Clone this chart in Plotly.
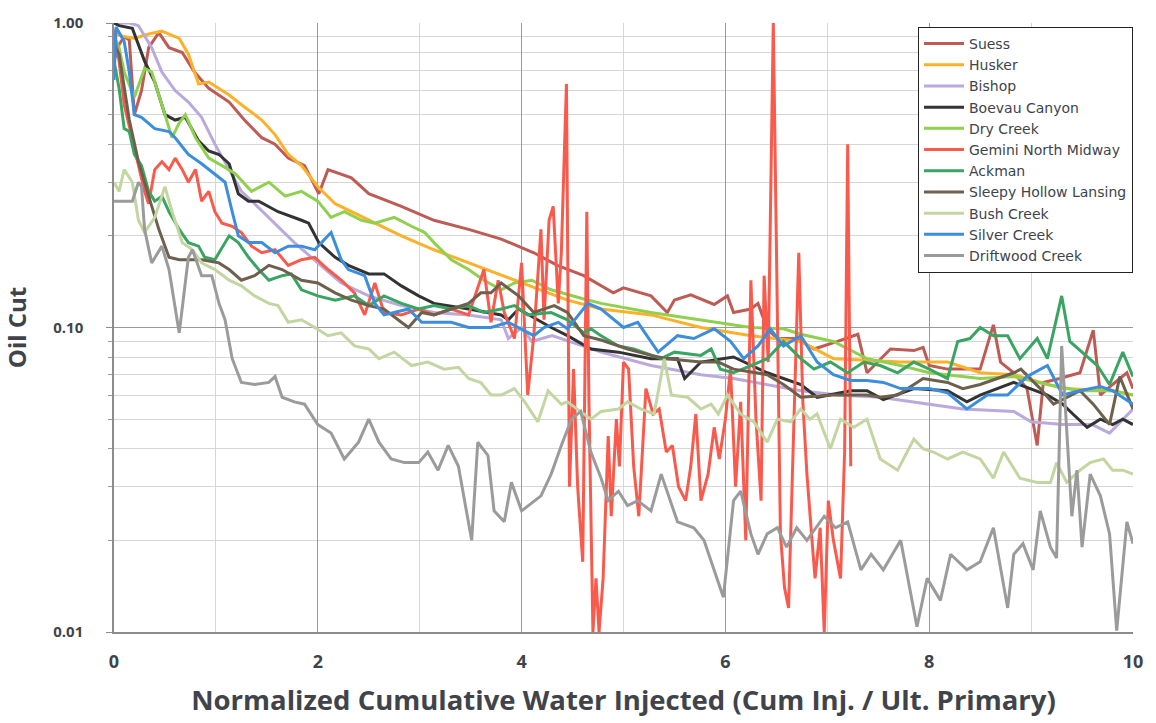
import plotly.graph_objects as go

# ---- data: (normalized cumulative water injected, oil cut) ----
suess = [(0,0.75),(0.05,0.85),(0.1,0.9),(0.15,0.88),(0.2,0.5),(0.27,0.6),(0.34,0.83),(0.44,0.93),(0.54,0.83),(0.67,0.8),
         (0.79,0.69),(0.93,0.61),(1.13,0.55),(1.28,0.48),(1.45,0.42),(1.58,0.4),(1.71,0.36),(1.87,0.34),(2.01,0.275),(2.1,0.33),
         (2.33,0.31),(2.5,0.275),(2.82,0.25),(3.14,0.225),(3.48,0.21),(3.8,0.195),(4.12,0.176),(4.35,0.16),(4.61,0.148),(4.9,0.13),
         (5.0,0.135),(5.27,0.127),(5.43,0.112),(5.5,0.123),(5.66,0.128),(5.89,0.119),(6.02,0.127),(6.08,0.112),(6.25,0.115),(6.32,0.12),
         (6.41,0.099),(6.51,0.092),(6.7,0.092),(6.87,0.085),(7.1,0.09),(7.3,0.095),(7.39,0.071),(7.62,0.085),(7.85,0.084),(7.94,0.086),
         (8.0,0.075),(8.18,0.073),(8.37,0.073),(8.5,0.073),(8.63,0.102),(8.7,0.077),(8.83,0.071),(8.96,0.063),(9.06,0.041),(9.12,0.066),
         (9.28,0.068),(9.48,0.071),(9.61,0.098),(9.68,0.06),(9.8,0.065),(9.94,0.071),(10.0,0.063)]

husker = [(0,0.95),(0.05,0.91),(0.2,0.89),(0.34,0.92),(0.47,0.94),(0.64,0.89),(0.73,0.79),(0.83,0.63),(0.93,0.64),(1.13,0.58),
          (1.28,0.53),(1.45,0.48),(1.58,0.43),(1.71,0.37),(1.84,0.34),(2.0,0.29),(2.17,0.255),(2.5,0.225),(2.82,0.2),(3.14,0.18),
          (3.48,0.163),(3.8,0.148),(4.0,0.14),(4.45,0.123),(4.78,0.115),(5.27,0.11),(5.76,0.1),(6.25,0.094),(6.74,0.09),(7.06,0.079),
          (7.39,0.078),(7.72,0.077),(8.18,0.077),(8.5,0.071),(8.83,0.07),(9.31,0.063),(9.8,0.062),(10.0,0.06)]

bishop = [(0,1.0),(0.15,1.0),(0.24,0.98),(0.37,0.83),(0.47,0.69),(0.6,0.6),(0.73,0.55),(0.86,0.49),(0.99,0.4),(1.13,0.33),
          (1.25,0.28),(1.38,0.255),(1.58,0.22),(1.77,0.19),(2.0,0.163),(2.23,0.14),(2.5,0.127),(2.82,0.118),(3.14,0.112),(3.48,0.11),
          (3.8,0.106),(3.87,0.092),(4.0,0.1),(4.1,0.09),(4.3,0.094),(4.78,0.083),(5.27,0.075),(5.76,0.07),(6.08,0.068),(6.41,0.065),
          (6.74,0.062),(7.1,0.06),(7.52,0.059),(8.0,0.056),(8.33,0.054),(8.83,0.053),(9.0,0.049),(9.31,0.048),(9.6,0.048),(9.77,0.045),
          (10.0,0.054)]

boevau = [(0,1.0),(0.05,0.98),(0.18,0.96),(0.3,0.75),(0.4,0.64),(0.5,0.5),(0.6,0.48),(0.7,0.49),(0.83,0.41),(0.93,0.38),
          (1.03,0.37),(1.13,0.345),(1.22,0.275),(1.32,0.26),(1.42,0.26),(1.61,0.24),(1.84,0.225),(1.91,0.22),(2.01,0.19),(2.17,0.17),
          (2.3,0.16),(2.5,0.15),(2.65,0.15),(2.82,0.137),(2.99,0.127),(3.14,0.12),(3.48,0.115),(3.8,0.11),(3.87,0.106),(3.97,0.115),
          (4.29,0.1),(4.45,0.094),(4.68,0.085),(4.95,0.083),(5.27,0.079),(5.53,0.079),(5.6,0.068),(5.76,0.077),(6.08,0.08),(6.41,0.071),
          (6.74,0.065),(6.9,0.059),(7.23,0.062),(7.39,0.062),(7.55,0.058),(7.85,0.063),(8.18,0.062),(8.37,0.057),(8.5,0.06),(8.83,0.066),
          (9.16,0.06),(9.31,0.056),(9.41,0.052),(9.55,0.047),(9.68,0.05),(9.8,0.048),(9.9,0.05),(10.0,0.048)]

dry_creek = [(0,0.9),(0.05,0.83),(0.1,0.69),(0.2,0.57),(0.3,0.71),(0.37,0.69),(0.5,0.5),(0.57,0.42),(0.64,0.47),(0.7,0.5),
             (0.8,0.42),(0.93,0.36),(1.06,0.34),(1.19,0.32),(1.35,0.28),(1.52,0.3),(1.68,0.27),(1.84,0.28),(2.0,0.26),(2.13,0.23),
             (2.26,0.24),(2.43,0.225),(2.56,0.22),(2.75,0.23),(2.92,0.215),(3.05,0.205),(3.14,0.19),(3.31,0.167),(3.48,0.155),(3.63,0.143),
             (3.8,0.133),(3.93,0.14),(4.1,0.143),(4.29,0.133),(4.61,0.124),(4.78,0.12),(5.27,0.112),(5.76,0.106),(6.25,0.1),(6.57,0.099),
             (6.74,0.095),(7.06,0.09),(7.39,0.079),(7.72,0.075),(8.0,0.071),(8.5,0.068),(8.83,0.069),(9.16,0.065),(9.48,0.062),(9.8,0.062),
             (10.0,0.06)]

gemini = [(0,0.95),(0.05,0.75),(0.1,0.54),(0.2,0.39),(0.3,0.28),(0.34,0.255),(0.4,0.33),(0.47,0.35),(0.54,0.33),(0.6,0.36),
          (0.67,0.33),(0.73,0.3),(0.8,0.33),(0.86,0.26),(0.93,0.28),(0.99,0.24),(1.06,0.22),(1.16,0.215),(1.25,0.205),(1.35,0.185),
          (1.45,0.176),(1.58,0.18),(1.71,0.16),(1.84,0.167),(1.97,0.17),(2.1,0.155),(2.23,0.143),(2.36,0.13),(2.46,0.11),(2.56,0.14),
          (2.65,0.112),(2.82,0.11),(2.99,0.115),(3.14,0.11),(3.31,0.115),(3.48,0.11),(3.63,0.155),(3.7,0.104),(3.77,0.143),(3.83,0.112),
          (3.93,0.092),(4.0,0.163),(4.06,0.06),(4.12,0.094),(4.19,0.21),(4.22,0.106),(4.27,0.225),(4.31,0.25),(4.36,0.12),(4.39,0.176),
          (4.44,0.63),(4.47,0.03),(4.51,0.073),(4.55,0.03),(4.6,0.017),(4.64,0.24),(4.66,0.06),(4.7,0.01),(4.73,0.015),(4.76,0.01),
          (4.8,0.015),(4.85,0.044),(4.88,0.024),(4.93,0.05),(4.96,0.035),(5.0,0.077),(5.05,0.073),(5.1,0.035),(5.15,0.024),(5.22,0.063),
          (5.29,0.052),(5.35,0.054),(5.42,0.039),(5.48,0.041),(5.54,0.03),(5.61,0.027),(5.66,0.035),(5.71,0.052),(5.76,0.027),(5.83,0.033),
          (5.89,0.047),(5.94,0.037),(6.0,0.05),(6.05,0.073),(6.1,0.03),(6.15,0.057),(6.2,0.02),(6.25,0.143),(6.3,0.05),(6.35,0.027),
          (6.38,0.148),(6.42,0.077),(6.47,1.0),(6.54,0.021),(6.58,0.014),(6.62,0.012),(6.67,0.044),(6.72,0.176),(6.76,0.057),(6.8,0.033),
          (6.85,0.02),(6.88,0.015),(6.93,0.022),(6.97,0.01),(7.01,0.027),(7.06,0.02),(7.13,0.015),(7.17,0.039),(7.2,0.4),(7.23,0.035)]

ackman = [(0,0.75),(0.05,0.61),(0.1,0.45),(0.15,0.44),(0.2,0.37),(0.27,0.34),(0.34,0.28),(0.4,0.26),(0.47,0.27),(0.54,0.24),
          (0.64,0.21),(0.73,0.19),(0.83,0.185),(0.89,0.17),(0.99,0.167),(1.13,0.2),(1.22,0.19),(1.32,0.17),(1.42,0.155),(1.52,0.143),
          (1.65,0.148),(1.74,0.15),(1.84,0.133),(2.0,0.127),(2.17,0.123),(2.36,0.127),(2.5,0.118),(2.65,0.127),(2.82,0.12),(2.99,0.115),
          (3.14,0.118),(3.31,0.115),(3.48,0.118),(3.63,0.112),(3.8,0.115),(3.93,0.118),(4.06,0.11),(4.29,0.112),(4.45,0.106),(4.61,0.096),
          (4.68,0.099),(4.78,0.094),(4.95,0.087),(5.1,0.085),(5.37,0.079),(5.5,0.083),(5.76,0.081),(5.86,0.085),(5.95,0.073),(6.08,0.071),
          (6.25,0.075),(6.41,0.079),(6.57,0.09),(6.74,0.079),(6.87,0.073),(7.03,0.077),(7.2,0.071),(7.36,0.077),(7.52,0.075),(7.69,0.071),
          (7.85,0.077),(8.0,0.073),(8.18,0.068),(8.28,0.09),(8.4,0.092),(8.5,0.1),(8.63,0.094),(8.77,0.094),(8.89,0.079),(9.06,0.092),
          (9.16,0.079),(9.3,0.127),(9.38,0.09),(9.48,0.084),(9.65,0.075),(9.77,0.065),(9.9,0.083),(10.0,0.069)]

sleepy_hollow = [(0,0.85),(0.05,0.79),(0.15,0.48),(0.24,0.35),(0.34,0.27),(0.44,0.21),(0.54,0.17),(0.64,0.167),(0.73,0.167),(0.86,0.167),
                 (1.03,0.163),(1.13,0.155),(1.25,0.143),(1.38,0.148),(1.52,0.16),(1.65,0.155),(1.84,0.143),(2.0,0.14),(2.17,0.13),(2.33,0.123),
                 (2.5,0.118),(2.65,0.115),(2.82,0.104),(2.89,0.1),(3.02,0.112),(3.14,0.11),(3.31,0.115),(3.48,0.12),(3.6,0.13),(3.7,0.13),
                 (3.8,0.14),(3.97,0.127),(4.12,0.112),(4.32,0.118),(4.45,0.112),(4.61,0.094),(4.78,0.091),(5.04,0.085),(5.27,0.081),(5.43,0.079),
                 (5.76,0.077),(5.93,0.077),(6.08,0.073),(6.41,0.07),(6.57,0.065),(6.74,0.059),(7.06,0.06),(7.39,0.06),(7.52,0.059),(7.69,0.06),
                 (7.85,0.065),(7.94,0.068),(8.18,0.066),(8.33,0.063),(8.5,0.065),(8.83,0.071),(8.9,0.073),(9.09,0.063),(9.22,0.056),(9.48,0.062),
                 (9.61,0.056),(9.77,0.048),(9.87,0.069),(10.0,0.054)]

bush_creek = [(0,0.3),(0.05,0.28),(0.1,0.33),(0.18,0.3),(0.24,0.225),(0.3,0.205),(0.4,0.23),(0.5,0.29),(0.57,0.24),(0.67,0.19),
              (0.77,0.18),(0.86,0.163),(0.99,0.155),(1.13,0.143),(1.25,0.137),(1.38,0.127),(1.52,0.12),(1.61,0.118),(1.71,0.104),(1.84,0.106),
              (1.97,0.1),(2.1,0.094),(2.23,0.096),(2.36,0.087),(2.5,0.085),(2.6,0.079),(2.75,0.083),(2.92,0.075),(3.08,0.077),(3.24,0.073),
              (3.38,0.074),(3.48,0.068),(3.6,0.066),(3.7,0.06),(3.8,0.06),(3.93,0.063),(4.03,0.057),(4.16,0.049),(4.26,0.062),(4.39,0.056),
              (4.45,0.057),(4.55,0.054),(4.68,0.05),(4.78,0.053),(4.95,0.054),(5.04,0.057),(5.17,0.054),(5.3,0.052),(5.4,0.079),(5.47,0.06),
              (5.63,0.059),(5.76,0.054),(5.86,0.056),(5.93,0.052),(6.02,0.06),(6.15,0.052),(6.28,0.049),(6.41,0.042),(6.51,0.05),(6.64,0.049),
              (6.74,0.054),(6.83,0.05),(6.9,0.052),(7.03,0.04),(7.13,0.05),(7.26,0.047),(7.39,0.05),(7.52,0.037),(7.69,0.034),(7.85,0.043),
              (7.94,0.04),(8.04,0.039),(8.18,0.037),(8.33,0.039),(8.5,0.037),(8.63,0.032),(8.73,0.039),(8.89,0.032),(9.06,0.031),(9.19,0.031),
              (9.25,0.036),(9.35,0.031),(9.48,0.034),(9.58,0.036),(9.71,0.037),(9.8,0.034),(9.9,0.034),(10.0,0.033)]

silver_creek = [(0,0.65),(0.02,0.97),(0.1,0.87),(0.15,0.69),(0.2,0.5),(0.27,0.49),(0.4,0.45),(0.54,0.44),(0.6,0.42),(0.73,0.37),
                (0.86,0.345),(0.99,0.32),(1.09,0.3),(1.16,0.24),(1.22,0.2),(1.32,0.19),(1.45,0.19),(1.58,0.176),(1.71,0.185),(1.84,0.185),
                (1.97,0.18),(2.13,0.205),(2.23,0.167),(2.3,0.155),(2.46,0.148),(2.56,0.12),(2.65,0.11),(2.75,0.112),(2.89,0.115),(3.02,0.104),
                (3.14,0.104),(3.31,0.104),(3.48,0.1),(3.7,0.1),(3.87,0.104),(4.0,0.099),(4.12,0.094),(4.22,0.1),(4.36,0.104),(4.45,0.099),
                (4.65,0.12),(4.78,0.115),(5.0,0.1),(5.14,0.104),(5.34,0.083),(5.53,0.094),(5.69,0.092),(5.89,0.099),(6.05,0.09),(6.18,0.079),
                (6.32,0.087),(6.44,0.099),(6.57,0.087),(6.74,0.094),(6.9,0.077),(7.06,0.07),(7.23,0.067),(7.39,0.067),(7.55,0.066),(7.72,0.063),
                (8.0,0.063),(8.18,0.061),(8.37,0.054),(8.57,0.06),(8.77,0.06),(8.96,0.069),(9.16,0.075),(9.31,0.06),(9.48,0.062),(9.68,0.064),
                (9.8,0.062),(10.0,0.056)]

driftwood = [(0,0.26),(0.05,0.26),(0.18,0.26),(0.24,0.3),(0.27,0.29),(0.3,0.21),(0.37,0.163),(0.47,0.185),(0.54,0.155),(0.64,0.096),
             (0.73,0.17),(0.77,0.18),(0.86,0.148),(0.96,0.148),(1.03,0.12),(1.09,0.106),(1.16,0.079),(1.25,0.066),(1.38,0.065),(1.52,0.066),
             (1.58,0.069),(1.65,0.059),(1.77,0.057),(1.87,0.056),(2.0,0.048),(2.13,0.045),(2.26,0.037),(2.4,0.042),(2.5,0.05),(2.6,0.042),
             (2.72,0.037),(2.85,0.036),(2.99,0.036),(3.08,0.039),(3.18,0.034),(3.28,0.041),(3.38,0.035),(3.51,0.02),(3.57,0.042),(3.67,0.038),
             (3.73,0.025),(3.83,0.023),(3.9,0.031),(4.0,0.025),(4.19,0.028),(4.29,0.033),(4.39,0.041),(4.49,0.05),(4.58,0.053),(4.68,0.039),
             (4.78,0.032),(4.85,0.027),(4.95,0.029),(5.04,0.026),(5.14,0.027),(5.27,0.025),(5.37,0.033),(5.53,0.023),(5.69,0.022),(5.79,0.02),
             (5.89,0.016),(5.98,0.013),(6.08,0.027),(6.15,0.029),(6.25,0.021),(6.32,0.018),(6.41,0.021),(6.51,0.022),(6.6,0.019),(6.7,0.022),
             (6.8,0.02),(6.97,0.024),(7.08,0.022),(7.2,0.023),(7.33,0.016),(7.43,0.018),(7.55,0.016),(7.72,0.02),(7.88,0.0104),(7.98,0.015),
             (8.11,0.0127),(8.21,0.018),(8.37,0.016),(8.5,0.017),(8.63,0.022),(8.77,0.012),(8.83,0.018),(8.92,0.0195),(9.02,0.016),(9.09,0.025),
             (9.19,0.019),(9.25,0.0175),(9.3,0.087),(9.35,0.044),(9.4,0.024),(9.45,0.034),(9.5,0.019),(9.58,0.033),(9.68,0.028),(9.77,0.021),
             (9.84,0.0101),(9.94,0.023),(10.0,0.0195)]

series_names = ["Suess", "Husker", "Bishop", "Boevau Canyon", "Dry Creek", "Gemini North Midway",
                "Ackman", "Sleepy Hollow Lansing", "Bush Creek", "Silver Creek", "Driftwood Creek"]
series_data = [suess, husker, bishop, boevau, dry_creek, gemini,
               ackman, sleepy_hollow, bush_creek, silver_creek, driftwood]
series_colors = ["#BF5B55", "#FDB12A", "#B9A9DC", "#333333", "#8FD14F", "#FA5A4C",
                 "#3AA563", "#6E604C", "#C3D6A1", "#3C8EDD", "#9B9B9B"]

y_major = [0.01, 0.1, 1]
y_major_text = ["0.01", "0.10", "1.00"]
y_minor = [d * 10.0 ** e for e in (-2, -1) for d in range(2, 10)]

TXT = "#40444a"
FONT = "Open Sans"

fig = go.Figure()
for name, pts, color in zip(series_names, series_data, series_colors):
    fig.add_trace(go.Scatter(
        x=[p[0] for p in pts], y=[p[1] for p in pts],
        mode="lines", name=name,
        line=dict(color=color, width=3),
    ))

fig.update_layout(
    width=1156, height=723,
    margin=dict(l=112, r=23, t=18, b=91),
    paper_bgcolor="white", plot_bgcolor="white",
    font=dict(family=FONT, color=TXT),
    showlegend=True,
    legend=dict(
        x=1.0, xanchor="right", y=0.9935, yanchor="top",
        bgcolor="white", bordercolor="#222222", borderwidth=1,
        font=dict(family="DejaVu Sans", size=14, color=TXT),
        tracegroupgap=0, itemwidth=40,
    ),
    xaxis=dict(
        range=[0, 10], tick0=0, dtick=2,
        showgrid=True, gridcolor="#9a9a9a", gridwidth=1,
        minor=dict(dtick=1, showgrid=True, gridcolor="#d6d6d6", gridwidth=1),
        showline=True, linecolor="#8c8c8c", linewidth=1.5,
        zeroline=False, ticks="", ticklabelstandoff=13,
        tickfont=dict(family=FONT, size=18, color=TXT, weight="bold"),
        title=dict(text="Normalized Cumulative Water Injected (Cum Inj. / Ult. Primary)",
                   font=dict(family=FONT, size=27.5, color=TXT, weight="bold"), standoff=18),
    ),
    yaxis=dict(
        type="log", range=[-2, 0],
        tickmode="array", tickvals=y_major, ticktext=y_major_text,
        showgrid=True, gridcolor="#9a9a9a", gridwidth=1,
        minor=dict(tickmode="array", tickvals=y_minor, showgrid=True, gridcolor="#d6d6d6",
                   gridwidth=1, ticks="outside", ticklen=4, tickcolor="#9a9a9a"),
        showline=True, linecolor="#8c8c8c", linewidth=1.5,
        zeroline=False, ticks="outside", ticklen=6, tickcolor="#8c8c8c",
        ticklabelstandoff=20,
        tickfont=dict(family=FONT, size=15, color=TXT, weight="bold"),
        title=dict(text="Oil Cut", font=dict(family=FONT, size=24, color=TXT, weight="bold"), standoff=24),
    ),
)

fig.write_html("out.html")
